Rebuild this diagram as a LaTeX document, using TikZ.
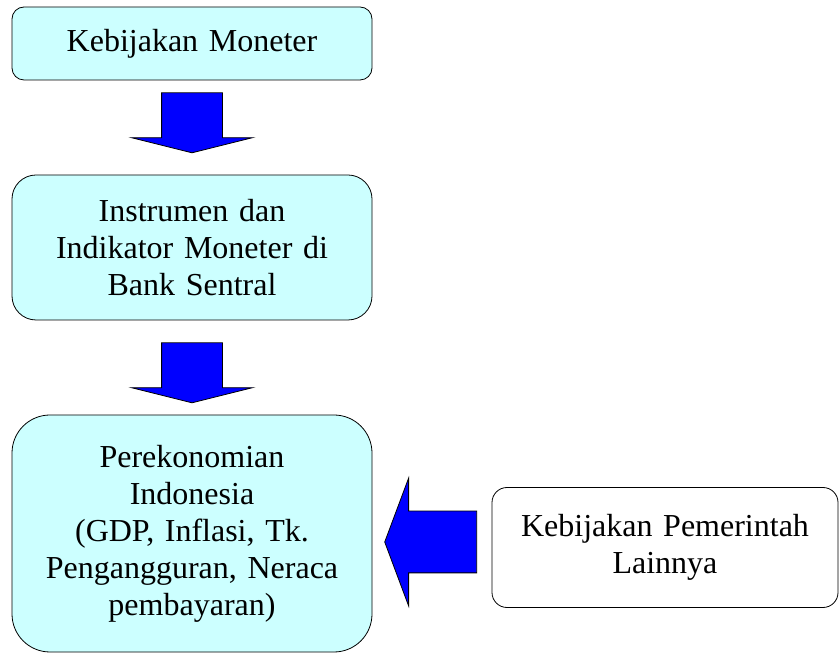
\documentclass[tikz,border=0pt]{standalone}
\usepackage{fontspec}
\setmainfont{Liberation Serif}
\usetikzlibrary{shapes.arrows}
\definecolor{kotak}{RGB}{204,255,255}
\definecolor{panah}{RGB}{0,0,255}
\tikzset{
  kotak/.style={draw,thick,fill=kotak,align=center,text width=#1,
    font=\fontsize{32}{37}\selectfont},
  blok/.style={single arrow,draw,thick,fill=panah,minimum height=60pt,
    inner xsep=30pt,inner ysep=0pt,single arrow head extend=30pt,
    single arrow tip angle=152,shape border rotate=270}
}
\begin{document}
\begin{tikzpicture}[x=1pt,y=1pt]
      \useasboundingbox (0,0) rectangle (840,653);
      \node[kotak=340pt,minimum width=360pt,minimum height=73pt,rounded corners=12pt] (keb) at (192,609.5) {Kebijakan Moneter};
      \node[kotak=340pt,minimum width=360pt,minimum height=145pt,rounded corners=24pt] (ins) at (192,405.5) {Instrumen dan\\Indikator Moneter di\\Bank Sentral};
      \node[kotak=340pt,minimum width=360pt,minimum height=237pt,rounded corners=38pt] (eko) at (192,119.5) {Perekonomian\\Indonesia\\(GDP, Inflasi, Tk.\\Pengangguran, Neraca\\pembayaran)};
      \node[kotak=330pt,fill=white,minimum width=346pt,minimum height=120pt,rounded corners=15pt] (pem) at (665,105.5) {Kebijakan Pemerintah\\Lainnya};
      \node[blok] (p1) at (192,534) {};
      \node[blok] (p2) at (192,284) {};
      \node[blok,shape border rotate=180,minimum height=92pt,inner xsep=0pt,inner ysep=30.5pt,
            single arrow head extend=33pt,single arrow tip angle=139] (p3) at (436.5,111) {};
    \end{tikzpicture}
\end{document}
